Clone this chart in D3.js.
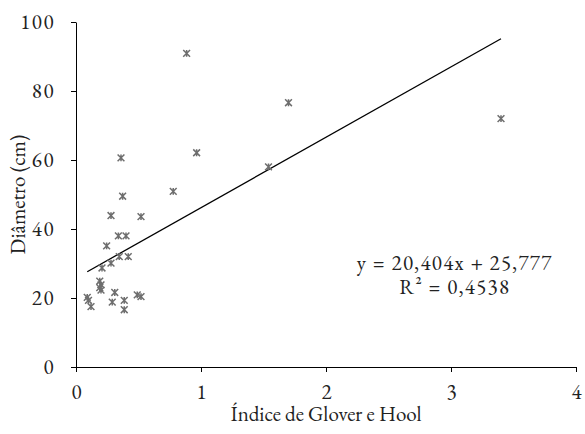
<!DOCTYPE html>
<html>
<head>
<meta charset="utf-8">
<script src="https://cdn.jsdelivr.net/npm/d3@7"></script>
<style>
  body { margin: 0; background: #fff; }
  svg { display: block; }
</style>
</head>
<body>
<svg id="chart" width="585" height="434"></svg>
<script>
const width = 585;
const height = 434;
const FONT = '"EB Garamond", "Liberation Serif", serif';

// Glover-Hool index (x) and diameter in cm (y)
const indexValues = [0.885, 0.965, 0.778, 1.54, 1.70, 3.40,
  0.36, 0.373, 0.28, 0.52, 0.339, 0.40, 0.245, 0.346, 0.418,
  0.28, 0.208, 0.19, 0.20, 0.19, 0.20,
  0.09, 0.10, 0.12, 0.31, 0.29, 0.386, 0.386, 0.49, 0.52];
const diameterValues = [90.9, 62.1, 50.9, 58.0, 76.6, 72.0,
  60.6, 49.5, 43.9, 43.6, 38.0, 38.0, 35.1, 32.0, 32.0,
  30.1, 28.7, 24.9, 23.8, 23.0, 22.3,
  20.2, 19.3, 17.5, 21.6, 18.8, 19.3, 16.6, 20.9, 20.4];

const xTicks = [0, 1, 2, 3, 4];
const yTicks = [0, 20, 40, 60, 80, 100];

// linear trend shown on the chart
const slope = 20.404;
const intercept = 25.777;
const eqLines = ["y = 20,404x + 25,777", "R² = 0,4538"];

const margin = {top: 22, right: 9, bottom: 67, left: 76};
const chartWidth = width - margin.left - margin.right;
const chartHeight = height - margin.top - margin.bottom;

const svg = d3.select("#chart");
const g = svg.append("g")
    .attr("transform", `translate(${margin.left},${margin.top})`);

const x = d3.scaleLinear().domain([0, 4]).range([0, chartWidth]);
const y = d3.scaleLinear().domain([0, 100]).range([chartHeight, 0]);

const data = indexValues.map((v, i) => ({x: v, y: diameterValues[i]}));

function serif(sel) {
  sel.style("font-family", FONT)
    .style("font-variant-numeric", "lining-nums")
    .style("font-size", "21px")
    .attr("fill", "#222");
}

// axes
const xAxis = g.append("g")
    .attr("transform", `translate(0,${chartHeight})`)
    .call(d3.axisBottom(x).tickValues(xTicks).tickFormat(d3.format("d")).tickSize(5).tickSizeOuter(0));
const yAxis = g.append("g")
    .call(d3.axisLeft(y).tickValues(yTicks).tickSize(5).tickSizeOuter(0));

[xAxis, yAxis].forEach(a => {
  a.select(".domain").attr("stroke", "#000");
  a.selectAll(".tick line").attr("stroke", "#000");
  a.selectAll(".tick text").call(serif);
});
xAxis.selectAll(".tick text").attr("y", 32).attr("dy", 0);
yAxis.selectAll(".tick text").attr("x", -21).style("letter-spacing", "1.5px");

// trend line over the data range
const xr = d3.extent(indexValues);
g.append("line")
    .attr("x1", x(xr[0])).attr("y1", y(slope * xr[0] + intercept))
    .attr("x2", x(xr[1])).attr("y2", y(slope * xr[1] + intercept))
    .attr("stroke", "#000")
    .attr("stroke-width", 1.3);

// star markers
const s = 3.4;
const pts = g.selectAll("g.pt")
    .data(data)
    .enter()
    .append("g")
    .attr("class", "pt")
    .attr("transform", d => `translate(${x(d.x)},${y(d.y)})`)
    .attr("stroke", "#6e6e6e")
    .attr("stroke-width", 1.5);
pts.append("path").attr("d", `M${-s},${-s}L${s},${s}M${-s},${s}L${s},${-s}M0,${-s}L0,${s}`);

// equation
const eq = g.append("text")
    .attr("x", x(3.03))
    .attr("y", y(28))
    .attr("text-anchor", "middle")
    .style("letter-spacing", "1.3px")
    .call(serif);
eq.selectAll("tspan")
    .data(eqLines)
    .enter()
    .append("tspan")
    .attr("x", x(3.03))
    .attr("dy", (d, i) => i === 0 ? 0 : 24)
    .text(d => d);

// axis titles
svg.append("text")
    .attr("x", margin.left + chartWidth / 2)
    .attr("y", 421)
    .attr("text-anchor", "middle")
    .call(serif)
    .text("Índice de Glover e Hool");

svg.append("text")
    .attr("transform", `translate(25,${margin.top + chartHeight / 2}) rotate(-90)`)
    .attr("text-anchor", "middle")
    .call(serif)
    .text("Diâmetro (cm)");
</script>
</body>
</html>
